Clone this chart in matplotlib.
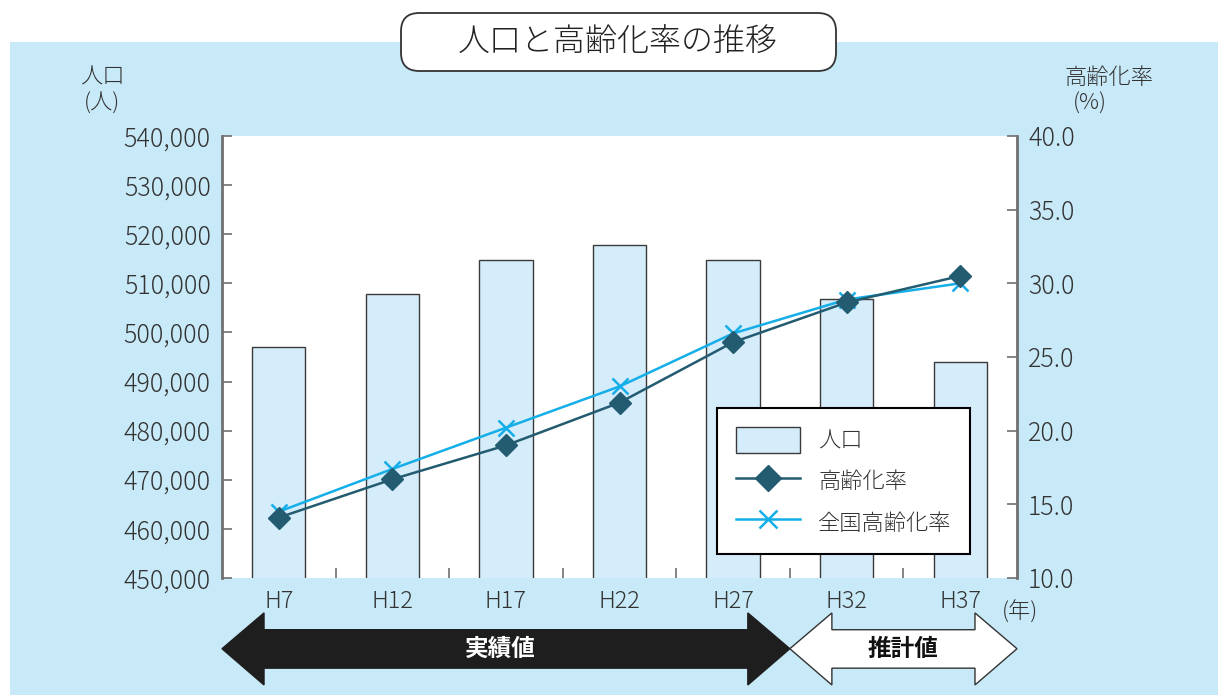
import matplotlib
matplotlib.use("Agg")
import matplotlib.pyplot as plt
import matplotlib.transforms as mtransforms
from matplotlib.patches import Rectangle, Polygon, Patch, FancyBboxPatch
from matplotlib.lines import Line2D

plt.rcParams['font.family'] = ['Noto Sans CJK JP', 'DejaVu Sans']
plt.rcParams['font.weight'] = 'light'

years = ['H7', 'H12', 'H17', 'H22', 'H27', 'H32', 'H37']
population = [497000, 507800, 514800, 517800, 514800, 506800, 494000]
aging_rate = [14.1, 16.7, 19.0, 21.9, 26.0, 28.7, 30.5]
national_rate = [14.5, 17.4, 20.2, 23.0, 26.6, 28.9, 30.0]
left_ticks = [450000, 460000, 470000, 480000, 490000, 500000, 510000,
              520000, 530000, 540000]
right_ticks = [10.0, 15.0, 20.0, 25.0, 30.0, 35.0, 40.0]

bg_blue = '#c8e9f8'
bar_fill = '#d5ecfa'
dark_line = '#235b70'
light_line = '#14aee8'
spine_gray = '#707070'
txt = '#333333'

W, H = 1218, 695
fig = plt.figure(figsize=(12.18, 6.95), dpi=100)
fig.patch.set_facecolor('white')
fig.patches.append(Rectangle((10 / W, 0), 1 - 10 / W, 1 - 42 / H,
                             transform=fig.transFigure, facecolor=bg_blue,
                             edgecolor='none', zorder=-5))

ax = fig.add_axes([222 / W, 1 - 578 / H, 795 / W, 442 / H])
ax.set_facecolor('white')
x = list(range(len(years)))
bars = ax.bar(x, population, width=0.47, color=bar_fill, edgecolor='#3a3a3a',
              linewidth=1.0, zorder=2)
ax.set_xlim(-0.5, len(years) - 0.5)
ax.set_ylim(450000, 540000)
ax.set_yticks(left_ticks)
ax.set_yticklabels([f'{v:,}' for v in left_ticks])
ax.set_xticks(x)
ax.set_xticklabels(years)
ax.set_xticks([i + 0.5 for i in range(len(years) - 1)], minor=True)
ax.tick_params(axis='x', which='major', length=0, pad=8, labelsize=17,
               labelcolor=txt)
ax.tick_params(axis='x', which='minor', direction='in', length=7,
               color=spine_gray, width=1.2)
ax.tick_params(axis='y', direction='in', length=7, color=spine_gray, width=1.2,
               labelsize=18, labelcolor=txt, pad=8)
for s in ['top', 'right']:
    ax.spines[s].set_visible(False)
ax.spines['left'].set_color(spine_gray)
ax.spines['left'].set_linewidth(2)
ax.spines['bottom'].set_visible(False)

ax2 = ax.twinx()
ax2.plot(x, national_rate, color=light_line, lw=1.8, marker='x', ms=12,
         mew=1.8, zorder=3)
ax2.plot(x, aging_rate, color=dark_line, lw=1.8, marker='D', ms=11,
         mec=dark_line, mfc=dark_line, zorder=4)
ax2.set_ylim(10, 40)
ax2.set_yticks(right_ticks)
ax2.set_yticklabels([f'{v:.1f}' for v in right_ticks])
ax2.tick_params(axis='y', direction='in', length=7, color=spine_gray, width=1.2,
                labelsize=18, labelcolor=txt, pad=8)
for s in ['top', 'left', 'bottom']:
    ax2.spines[s].set_visible(False)
ax2.spines['right'].set_color(spine_gray)
ax2.spines['right'].set_linewidth(2)

handles = [Patch(facecolor=bar_fill, edgecolor='#3a3a3a', linewidth=1.0),
           Line2D([], [], color=dark_line, lw=1.8, marker='D', ms=13),
           Line2D([], [], color=light_line, lw=1.8, marker='x', ms=13, mew=1.8)]
leg = ax2.legend(handles, ['人口', '高齢化率', '全国高齢化率'],
                 loc='upper left', bbox_to_anchor=(0.6226, 0.3846),
                 fontsize=16, frameon=True, fancybox=False, framealpha=1,
                 edgecolor='black', handlelength=2.9, handleheight=1.4,
                 labelspacing=0.7, borderpad=0.85, handletextpad=0.8,
                 borderaxespad=0)
leg.get_frame().set_linewidth(1.5)
for t in leg.get_texts():
    t.set_color(txt)

# title box
fig.patches.append(FancyBboxPatch((401 / W, 1 - 71 / H), 435 / W, 58 / H,
                                  boxstyle='round,pad=0,rounding_size=0.015',
                                  transform=fig.transFigure, facecolor='white',
                                  edgecolor='#333333', lw=1.3, zorder=-1,
                                  mutation_aspect=W / H))
fig.text(618 / W, 1 - 43 / H, '人口と高齢化率の推移', ha='center',
         va='center', fontsize=23, color='#222222')

# axis unit labels
fig.text(102 / W, 1 - 78 / H, '人口', ha='center', va='center',
         fontsize=16, color=txt)
fig.text(102 / W, 1 - 104 / H, '(人)', ha='center', va='center',
         fontsize=16, color=txt)
fig.text(1109 / W, 1 - 78 / H, '高齢化率', ha='center', va='center',
         fontsize=16, color=txt)
fig.text(1090 / W, 1 - 104 / H, '(%)', ha='center', va='center',
         fontsize=16, color=txt)
fig.text(1020 / W, 1 - 612 / H, '(年)', ha='center', va='center',
         fontsize=16, color=txt)

# arrows for actual / estimated periods
trans = mtransforms.blended_transform_factory(ax.transData, ax.transAxes)


def double_arrow(x0, x1, face, edge):
    h = 0.37
    mid, bt, bb, ht, hb = -0.160, -0.117, -0.204, -0.079, -0.242
    pts = [(x0, mid), (x0 + h, ht), (x0 + h, bt), (x1 - h, bt), (x1 - h, ht),
           (x1, mid), (x1 - h, hb), (x1 - h, bb), (x0 + h, bb), (x0 + h, hb)]
    p = Polygon(pts, closed=True, facecolor=face, edgecolor=edge, lw=1.0,
                transform=trans, clip_on=False, zorder=5)
    ax.add_patch(p)


double_arrow(-0.5, 4.5, '#1e1e1e', '#1e1e1e')
double_arrow(4.5, 6.5, 'white', '#333333')
ax.text(1.95, -0.160, '実績値', transform=trans, ha='center', va='center',
        fontsize=17, fontweight='bold', color='white', zorder=6)
ax.text(5.5, -0.160, '推計値', transform=trans, ha='center', va='center',
        fontsize=17, fontweight='bold', color='#111111', zorder=6)

fig.savefig('out.png', dpi=100)
